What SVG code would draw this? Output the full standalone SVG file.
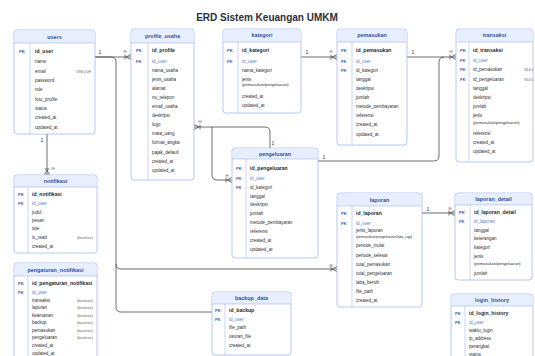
<svg xmlns="http://www.w3.org/2000/svg" width="535" height="356" viewBox="0 0 535 356">
<style>
  text { font-family: "Liberation Sans", Arial, sans-serif; }
  .title { font-size: 10px; font-weight: bold; fill: #2b2f3a; text-anchor: middle; }
  .box { fill: #ffffff; stroke: #a3bbee; stroke-width: 0.8; }
  .hdr { fill: #e7eefd; stroke: none; }
  .sep { stroke: #a3bbee; stroke-width: 0.6; }
  .ht { font-size: 5.4px; font-weight: bold; fill: #34509e; text-anchor: middle; }
  .k { font-size: 4.2px; font-weight: bold; fill: #3d5db8; }
  .pk { font-size: 5.1px; fill: #1e1e1e; font-weight: 600; }
  .f { font-size: 4.5px; fill: #2e2e2e; }
  .fk { font-size: 4.5px; fill: #5b7bd0; }
  .sub { font-size: 4px; fill: #2e2e2e; }
  .note { font-size: 3.8px; fill: #6f6f6f; text-anchor: end; }
  .conn path { fill: none; stroke: #4a4a4a; stroke-width: 0.8; }
  .lbl { font-size: 5px; fill: #333; text-anchor: middle; }
</style>

<text class="title" x="267" y="21">ERD Sistem Keuangan UMKM</text>

<!-- relationship lines with crow's-foot ends -->
<g id="connectors" class="conn">
  <!-- users - profile_usaha -->
  <path d="M95,57 H131"/>
  <path d="M126,57 L131,54.5 M126,57 L131,59.5 M125,54.5 V59.5"/>
  <!-- users - laporan / backup_data (shared trunk) -->
  <path d="M95,57 H111 Q116,57 116,62 V264 Q116,269 121,269 H337"/>
  <path d="M116,264 V307 Q116,312 121,312 H212"/>
  <path d="M332,269 L337,266.5 M332,269 L337,271.5 M331,266.5 V271.5"/>
  <!-- users - notifikasi -->
  <path d="M47,134 V175"/>
  <path d="M47,170 L44.5,175 M47,170 L49.5,175 M44.5,169 H49.5"/>
  <!-- kategori - pemasukan -->
  <path d="M301,57 H337"/>
  <path d="M332,57 L337,54.5 M332,57 L337,59.5 M331,54.5 V59.5"/>
  <!-- pemasukan / pengeluaran - transaksi -->
  <path d="M407,57 H456"/>
  <path d="M318,161 H434 Q439,161 439,156 V62 Q439,57 444,57"/>
  <path d="M451,57 L456,54.5 M451,57 L456,59.5 M450,54.5 V59.5"/>
  <!-- profile_usaha / pengeluaran -->
  <path d="M194,127 H265 Q270,127 270,132 V148"/>
  <path d="M199,127 L194,124.5 M199,127 L194,129.5 M200,124.5 V129.5"/>
  <path d="M212,127 V175 Q212,180 217,180 H232"/>
  <path d="M227,180 L232,177.5 M227,180 L232,182.5 M226,177.5 V182.5"/>
  <!-- laporan - laporan_detail -->
  <path d="M422,213 H455"/>
  <path d="M450,213 L455,210.5 M450,213 L455,215.5 M449,210.5 V215.5"/>

  <text class="lbl" x="100" y="54">1</text>
  <text class="lbl" x="125" y="53">∞</text>
  <text class="lbl" x="42" y="142">1</text>
  <text class="lbl" x="53" y="170">∞</text>
  <text class="lbl" x="307" y="54">1</text>
  <text class="lbl" x="331" y="53">∞</text>
  <text class="lbl" x="413" y="54">1</text>
  <text class="lbl" x="451" y="53">∞</text>
  <text class="lbl" x="324" y="159">1</text>
  <text class="lbl" x="200" y="123">∞</text>
  <text class="lbl" x="273" y="145">1</text>
  <text class="lbl" x="227" y="177">∞</text>
  <text class="lbl" x="428" y="211">1</text>
  <text class="lbl" x="450" y="210">∞</text>
  <text class="lbl" x="331" y="267">∞</text>
</g>

<!-- users -->
<g id="users">
  <rect class="box" x="14" y="30" width="81" height="104" rx="3"/>
  <path class="hdr" d="M17,30.4 H92 Q94.6,30.4 94.6,33 V43 H14.4 V33 Q14.4,30.4 17,30.4 Z"/>
  <line class="sep" x1="14" y1="43" x2="95" y2="43"/>
  <line class="sep" x1="30" y1="43" x2="30" y2="134"/>
  <text class="ht" x="54.5" y="38.5">users</text>
  <text class="k" x="19" y="52.5">PK</text>
  <text class="pk" x="35" y="52.8">id_user</text>
  <text class="f" x="35" y="62.5">name</text>
  <text class="f" x="35" y="72.5">email</text>
  <text class="note" x="91" y="72.5">UNIQUE</text>
  <text class="f" x="35" y="81.5">password</text>
  <text class="f" x="35" y="90.5">role</text>
  <text class="f" x="35" y="100.5">foto_profile</text>
  <text class="f" x="35" y="109.5">status</text>
  <text class="f" x="35" y="118.5">created_at</text>
  <text class="f" x="35" y="128.5">updated_at</text>
</g>

<!-- profile_usaha -->
<g id="profile_usaha">
  <rect class="box" x="131" y="29" width="63" height="151" rx="3"/>
  <path class="hdr" d="M134,29.4 H191 Q193.6,29.4 193.6,32 V43 H131.4 V32 Q131.4,29.4 134,29.4 Z"/>
  <line class="sep" x1="131" y1="43" x2="194" y2="43"/>
  <line class="sep" x1="148" y1="43" x2="148" y2="180"/>
  <text class="ht" x="162.5" y="37.5">profile_usaha</text>
  <text class="k" x="136" y="51.5">PK</text>
  <text class="pk" x="152" y="51.8">id_profile</text>
  <text class="k" x="136" y="62.5">FK</text>
  <text class="fk" x="152" y="62.5">id_user</text>
  <text class="f" x="152" y="71.5">nama_usaha</text>
  <text class="f" x="152" y="80.5">jenis_usaha</text>
  <text class="f" x="152" y="89.5">alamat</text>
  <text class="f" x="152" y="98.5">no_telepon</text>
  <text class="f" x="152" y="107.5">email_usaha</text>
  <text class="f" x="152" y="116.5">deskripsi</text>
  <text class="f" x="152" y="125.5">logo</text>
  <text class="f" x="152" y="134.5">mata_uang</text>
  <text class="f" x="152" y="143.5">format_angka</text>
  <text class="f" x="152" y="153.5">pajak_default</text>
  <text class="f" x="152" y="162.5">created_at</text>
  <text class="f" x="152" y="171.5">updated_at</text>
</g>

<!-- kategori -->
<g id="kategori">
  <rect class="box" x="223" y="29" width="78" height="84" rx="3"/>
  <path class="hdr" d="M226,29.4 H298 Q300.6,29.4 300.6,32 V42 H223.4 V32 Q223.4,29.4 226,29.4 Z"/>
  <line class="sep" x1="223" y1="42" x2="301" y2="42"/>
  <line class="sep" x1="238" y1="42" x2="238" y2="113"/>
  <text class="ht" x="262" y="37">kategori</text>
  <text class="k" x="227" y="51.5">PK</text>
  <text class="pk" x="242" y="51.8">id_kategori</text>
  <text class="k" x="227" y="62.5">FK</text>
  <text class="fk" x="242" y="62.5">id_user</text>
  <text class="f" x="242" y="71.5">nama_kategori</text>
  <text class="f" x="242" y="80.5">jenis</text>
  <text class="sub" x="242" y="86">(pemasukan/pengeluaran)</text>
  <text class="f" x="242" y="97.5">created_at</text>
  <text class="f" x="242" y="106.5">updated_at</text>
</g>

<!-- pemasukan -->
<g id="pemasukan">
  <rect class="box" x="337" y="29" width="70" height="116" rx="3"/>
  <path class="hdr" d="M340,29.4 H404 Q406.6,29.4 406.6,32 V42 H337.4 V32 Q337.4,29.4 340,29.4 Z"/>
  <line class="sep" x1="337" y1="42" x2="407" y2="42"/>
  <line class="sep" x1="352" y1="42" x2="352" y2="145"/>
  <text class="ht" x="372" y="37">pemasukan</text>
  <text class="k" x="341" y="51.5">PK</text>
  <text class="pk" x="356" y="51.8">id_pemasukan</text>
  <text class="k" x="341" y="62.5">FK</text>
  <text class="fk" x="356" y="62.5">id_user</text>
  <text class="k" x="341" y="71.5">FK</text>
  <text class="f" x="356" y="71.5">id_kategori</text>
  <text class="f" x="356" y="80.5">tanggal</text>
  <text class="f" x="356" y="89.5">deskripsi</text>
  <text class="f" x="356" y="98.5">jumlah</text>
  <text class="f" x="356" y="107.5">metode_pembayaran</text>
  <text class="f" x="356" y="116.5">referensi</text>
  <text class="f" x="356" y="125.5">created_at</text>
  <text class="f" x="356" y="135.5">updated_at</text>
</g>

<!-- transaksi -->
<g id="transaksi">
  <rect class="box" x="456" y="29" width="77" height="133" rx="3"/>
  <path class="hdr" d="M459,29.4 H530 Q532.6,29.4 532.6,32 V42 H456.4 V32 Q456.4,29.4 459,29.4 Z"/>
  <line class="sep" x1="456" y1="42" x2="533" y2="42"/>
  <line class="sep" x1="469" y1="42" x2="469" y2="162"/>
  <text class="ht" x="494.5" y="37">transaksi</text>
  <text class="k" x="460" y="51.5">PK</text>
  <text class="pk" x="473" y="51.8">id_transaksi</text>
  <text class="k" x="460" y="61.5">FK</text>
  <text class="fk" x="473" y="61.5">id_user</text>
  <text class="k" x="460" y="70.5">FK</text>
  <text class="f" x="473" y="70.5">id_pemasukan</text>
  <text class="note" x="534" y="70.5">NULL</text>
  <text class="k" x="460" y="80.5">FK</text>
  <text class="f" x="473" y="80.5">id_pengeluaran</text>
  <text class="note" x="534" y="80.5">NULL</text>
  <text class="f" x="473" y="89.5">tanggal</text>
  <text class="f" x="473" y="98.5">deskripsi</text>
  <text class="f" x="473" y="107.5">jumlah</text>
  <text class="f" x="473" y="116.5">jenis</text>
  <text class="sub" x="473" y="123.5">(pemasukan/pengeluaran)</text>
  <text class="f" x="473" y="134.5">referensi</text>
  <text class="f" x="473" y="143.5">created_at</text>
  <text class="f" x="473" y="152.5">updated_at</text>
</g>

<!-- notifikasi -->
<g id="notifikasi">
  <rect class="box" x="14" y="175" width="83" height="78" rx="3"/>
  <path class="hdr" d="M17,175.4 H94 Q96.6,175.4 96.6,178 V187 H14.4 V178 Q14.4,175.4 17,175.4 Z"/>
  <line class="sep" x1="14" y1="187" x2="97" y2="187"/>
  <line class="sep" x1="28" y1="187" x2="28" y2="253"/>
  <text class="ht" x="55.5" y="183">notifikasi</text>
  <text class="k" x="18" y="195.5">PK</text>
  <text class="pk" x="32" y="195.8">id_notifikasi</text>
  <text class="k" x="18" y="204.5">FK</text>
  <text class="fk" x="32" y="204.5">id_user</text>
  <text class="f" x="32" y="213.5">judul</text>
  <text class="f" x="32" y="221.5">pesan</text>
  <text class="f" x="32" y="229.5">tipe</text>
  <text class="f" x="32" y="238.5">is_read</text>
  <text class="note" x="93" y="238.5">(boolean)</text>
  <text class="f" x="32" y="247.5">created_at</text>
</g>

<!-- pengaturan_notifikasi -->
<g id="pengaturan_notifikasi">
  <rect class="box" x="14" y="263" width="83" height="100" rx="3"/>
  <path class="hdr" d="M17,263.4 H94 Q96.6,263.4 96.6,266 V276 H14.4 V266 Q14.4,263.4 17,263.4 Z"/>
  <line class="sep" x1="14" y1="276" x2="97" y2="276"/>
  <line class="sep" x1="28" y1="276" x2="28" y2="363"/>
  <text class="ht" x="55.5" y="271.5">pengaturan_notifikasi</text>
  <text class="k" x="18" y="284.5">PK</text>
  <text class="pk" x="32" y="284.8">id_pengaturan_notifikasi</text>
  <text class="k" x="18" y="293.5">FK</text>
  <text class="fk" x="32" y="293.5">id_user</text>
  <text class="f" x="32" y="301.5">transaksi</text>
  <text class="note" x="93" y="301.5">(boolean)</text>
  <text class="f" x="32" y="308.5">laporan</text>
  <text class="note" x="93" y="308.5">(boolean)</text>
  <text class="f" x="32" y="316.5">keamanan</text>
  <text class="note" x="93" y="316.5">(boolean)</text>
  <text class="f" x="32" y="323.5">backup</text>
  <text class="note" x="93" y="323.5">(boolean)</text>
  <text class="f" x="32" y="331.5">pemasukan</text>
  <text class="note" x="93" y="331.5">(boolean)</text>
  <text class="f" x="32" y="338.5">pengeluaran</text>
  <text class="note" x="93" y="338.5">(boolean)</text>
  <text class="f" x="32" y="346.5">created_at</text>
  <text class="f" x="32" y="354.5">updated_at</text>
</g>

<!-- pengeluaran -->
<g id="pengeluaran">
  <rect class="box" x="232" y="148" width="86" height="110" rx="3"/>
  <path class="hdr" d="M235,148.4 H315 Q317.6,148.4 317.6,151 V159 H232.4 V151 Q232.4,148.4 235,148.4 Z"/>
  <line class="sep" x1="232" y1="159" x2="318" y2="159"/>
  <line class="sep" x1="246" y1="159" x2="246" y2="258"/>
  <text class="ht" x="275" y="155.5">pengeluaran</text>
  <text class="k" x="236" y="169.5">PK</text>
  <text class="pk" x="250" y="169.8">id_pengeluaran</text>
  <text class="k" x="236" y="179.5">FK</text>
  <text class="fk" x="250" y="179.5">id_user</text>
  <text class="k" x="236" y="188.5">FK</text>
  <text class="f" x="250" y="188.5">id_kategori</text>
  <text class="f" x="250" y="197.5">tanggal</text>
  <text class="f" x="250" y="205.5">deskripsi</text>
  <text class="f" x="250" y="214.5">jumlah</text>
  <text class="f" x="250" y="223.5">metode_pembayaran</text>
  <text class="f" x="250" y="232.5">referensi</text>
  <text class="f" x="250" y="241.5">created_at</text>
  <text class="f" x="250" y="250.5">updated_at</text>
</g>

<!-- laporan -->
<g id="laporan">
  <rect class="box" x="337" y="193" width="85" height="114" rx="3"/>
  <path class="hdr" d="M340,193.4 H419 Q421.6,193.4 421.6,196 V206 H337.4 V196 Q337.4,193.4 340,193.4 Z"/>
  <line class="sep" x1="337" y1="206" x2="422" y2="206"/>
  <line class="sep" x1="352" y1="206" x2="352" y2="307"/>
  <text class="ht" x="379.5" y="201.5">laporan</text>
  <text class="k" x="341" y="214.5">PK</text>
  <text class="pk" x="356" y="214.8">id_laporan</text>
  <text class="k" x="341" y="224.5">FK</text>
  <text class="fk" x="356" y="224.5">id_user</text>
  <text class="f" x="356" y="231.5">jenis_laporan</text>
  <text class="sub" x="356" y="237.5" style="font-size:3.5px">(pemasukan/pengeluaran/laba_rugi)</text>
  <text class="f" x="356" y="246.5">periode_mulai</text>
  <text class="f" x="356" y="256.5">periode_selesai</text>
  <text class="f" x="356" y="265.5">total_pemasukan</text>
  <text class="f" x="356" y="274.5">total_pengeluaran</text>
  <text class="f" x="356" y="283.5">laba_bersih</text>
  <text class="f" x="356" y="292.5">file_path</text>
  <text class="f" x="356" y="301.5">created_at</text>
</g>

<!-- laporan_detail -->
<g id="laporan_detail">
  <rect class="box" x="455" y="193" width="77" height="87" rx="3"/>
  <path class="hdr" d="M458,193.4 H529 Q531.6,193.4 531.6,196 V205 H455.4 V196 Q455.4,193.4 458,193.4 Z"/>
  <line class="sep" x1="455" y1="205" x2="532" y2="205"/>
  <line class="sep" x1="470" y1="205" x2="470" y2="280"/>
  <text class="ht" x="493.5" y="200.8">laporan_detail</text>
  <text class="k" x="459" y="213.5">PK</text>
  <text class="pk" x="474" y="213.8">id_laporan_detail</text>
  <text class="k" x="459" y="222.5">FK</text>
  <text class="fk" x="474" y="222.5">id_laporan</text>
  <text class="f" x="474" y="231.5">tanggal</text>
  <text class="f" x="474" y="239.5">keterangan</text>
  <text class="f" x="474" y="248.5">kategori</text>
  <text class="f" x="474" y="257.5">jenis</text>
  <text class="sub" x="474" y="264.5">(pemasukan/pengeluaran)</text>
  <text class="f" x="474" y="274.5">jumlah</text>
</g>

<!-- backup_data -->
<g id="backup_data">
  <rect class="box" x="212" y="292" width="79" height="63" rx="3"/>
  <path class="hdr" d="M215,292.4 H288 Q290.6,292.4 290.6,295 V304 H212.4 V295 Q212.4,292.4 215,292.4 Z"/>
  <line class="sep" x1="212" y1="304" x2="291" y2="304"/>
  <line class="sep" x1="225" y1="304" x2="225" y2="355"/>
  <text class="ht" x="251.5" y="300">backup_data</text>
  <text class="k" x="215" y="311.5">PK</text>
  <text class="pk" x="229" y="311.8">id_backup</text>
  <text class="k" x="215" y="320.5">FK</text>
  <text class="fk" x="229" y="320.5">id_user</text>
  <text class="f" x="229" y="328.5">file_path</text>
  <text class="f" x="229" y="337.5">ukuran_file</text>
  <text class="f" x="229" y="346.5">created_at</text>
</g>

<!-- login_history -->
<g id="login_history">
  <rect class="box" x="451" y="294" width="82" height="70" rx="3"/>
  <path class="hdr" d="M454,294.4 H530 Q532.6,294.4 532.6,297 V306 H451.4 V297 Q451.4,294.4 454,294.4 Z"/>
  <line class="sep" x1="451" y1="306" x2="533" y2="306"/>
  <line class="sep" x1="465" y1="306" x2="465" y2="364"/>
  <text class="ht" x="492" y="302">login_history</text>
  <text class="k" x="455" y="314.5">PK</text>
  <text class="pk" x="469" y="314.8">id_login_history</text>
  <text class="k" x="455" y="323.5">FK</text>
  <text class="fk" x="469" y="323.5">id_user</text>
  <text class="f" x="469" y="331.5">waktu_login</text>
  <text class="f" x="469" y="339.5">ip_address</text>
  <text class="f" x="469" y="347.5">perangkat</text>
  <text class="f" x="469" y="355.5">status</text>
</g>
</svg>
